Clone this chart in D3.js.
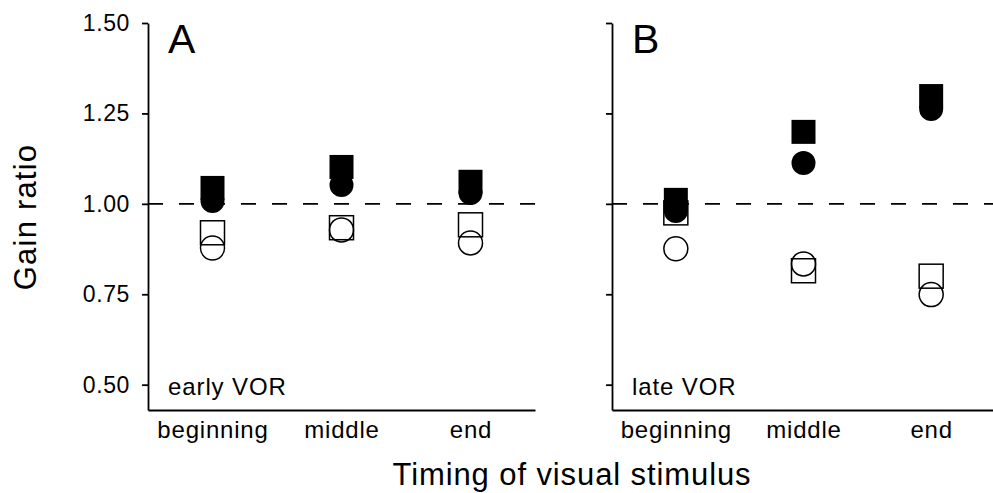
<!DOCTYPE html>
<html>
<head>
<meta charset="utf-8">
<script src="https://cdn.jsdelivr.net/npm/d3@7"></script>
<style>
  body { margin: 0; background: #fff; }
  svg text { font-family: "Liberation Sans", Arial, Helvetica, sans-serif; fill: #000; }
</style>
</head>
<body>
<div id="chart"></div>
<script>
// 1: DATA
const categories = ["beginning", "middle", "end"];
const yTicks = [0.50, 0.75, 1.00, 1.25, 1.50];

// panel A: early VOR
const earlyFilledSquare = [1.044, 1.102, 1.061];
const earlyFilledCircle = [1.008, 1.052, 1.030];
const earlyOpenSquare = [0.920, 0.934, 0.942];
const earlyOpenCircle = [0.878, 0.928, 0.892];

// panel B: late VOR
const lateFilledSquare = [1.011, 1.199, 1.298];
const lateFilledCircle = [0.980, 1.113, 1.262];
const lateOpenSquare = [0.975, 0.815, 0.800];
const lateOpenCircle = [0.876, 0.834, 0.749];

// 2: SETUP
const W = 993, H = 493;
const plotTop = 23, plotBottom = 410;
const markerSize = 24;

const svg = d3.select("#chart")
    .append("svg")
    .attr("width", W)
    .attr("height", H);

const y = d3.scaleLinear()
    .domain([0.43, 1.5])
    .range([plotBottom, plotTop]);

const panels = [
    { letter: "A", note: "early VOR", x0: 148, x1: 535, labels: true,
      fs: earlyFilledSquare, fc: earlyFilledCircle, os: earlyOpenSquare, oc: earlyOpenCircle },
    { letter: "B", note: "late VOR", x0: 612, x1: 995, labels: false,
      fs: lateFilledSquare, fc: lateFilledCircle, os: lateOpenSquare, oc: lateOpenCircle }
];

panels.forEach(p => {
    const x = d3.scalePoint()
        .domain(categories)
        .range([p.x0, p.x1])
        .padding(0.5);

    const g = svg.append("g");

    // dashed reference line at 1.0
    g.append("line")
        .attr("x1", p.x0)
        .attr("x2", p.x1)
        .attr("y1", y(1))
        .attr("y2", y(1))
        .attr("stroke", "#000")
        .attr("stroke-width", 1.8)
        .attr("stroke-dasharray", "15,16");

    // y axis
    const yAxis = g.append("g")
        .attr("transform", `translate(${p.x0},0)`)
        .call(d3.axisLeft(y)
            .tickValues(yTicks)
            .tickSize(6)
            .tickSizeOuter(0)
            .tickPadding(12)
            .tickFormat(p.labels ? d3.format(".2f") : ""));
    yAxis.selectAll("path, line").attr("stroke", "#000").attr("stroke-width", 1.8);
    yAxis.selectAll("text")
        .attr("font-size", "23px")
        .attr("letter-spacing", "0.6px")
        .style("font-family", "'Liberation Sans', Arial, sans-serif");

    // x axis
    const xAxis = g.append("g")
        .attr("transform", `translate(0,${plotBottom})`)
        .call(d3.axisBottom(x)
            .tickSize(0)
            .tickSizeOuter(0)
            .tickPadding(11));
    xAxis.selectAll("path").attr("stroke", "#000").attr("stroke-width", 1.8);
    xAxis.selectAll("text")
        .attr("font-size", "24px")
        .attr("letter-spacing", "0.8px")
        .style("font-family", "'Liberation Sans', Arial, sans-serif");

    // markers: open first, filled on top
    const sq = (vals, filled) => g.selectAll(null)
        .data(vals)
        .enter()
        .append("rect")
        .attr("x", (d, i) => x(categories[i]) - markerSize / 2)
        .attr("y", d => y(d) - markerSize / 2)
        .attr("width", markerSize)
        .attr("height", markerSize)
        .attr("fill", filled ? "#000" : "none")
        .attr("stroke", "#000")
        .attr("stroke-width", filled ? 0 : 1.5);

    const circ = (vals, filled) => g.selectAll(null)
        .data(vals)
        .enter()
        .append("circle")
        .attr("cx", (d, i) => x(categories[i]))
        .attr("cy", d => y(d))
        .attr("r", markerSize / 2)
        .attr("fill", filled ? "#000" : "none")
        .attr("stroke", "#000")
        .attr("stroke-width", filled ? 0 : 1.5);

    sq(p.os, false);
    circ(p.oc, false);
    circ(p.fc, true);
    sq(p.fs, true);

    // panel letter
    g.append("text")
        .attr("x", p.x0 + 20)
        .attr("y", 53)
        .attr("font-size", "41px")
        .text(p.letter);

    // condition note
    g.append("text")
        .attr("x", p.x0 + 20)
        .attr("y", 395)
        .attr("font-size", "24px")
        .attr("letter-spacing", "0.9px")
        .text(p.note);
});

// axis titles
svg.append("text")
    .attr("text-anchor", "middle")
    .attr("transform", "translate(36,217) rotate(-90)")
    .attr("font-size", "31px")
    .attr("letter-spacing", "1.2px")
    .text("Gain ratio");

svg.append("text")
    .attr("text-anchor", "middle")
    .attr("x", 572)
    .attr("y", 485)
    .attr("font-size", "31px")
    .attr("letter-spacing", "0.9px")
    .text("Timing of visual stimulus");
</script>
</body>
</html>
